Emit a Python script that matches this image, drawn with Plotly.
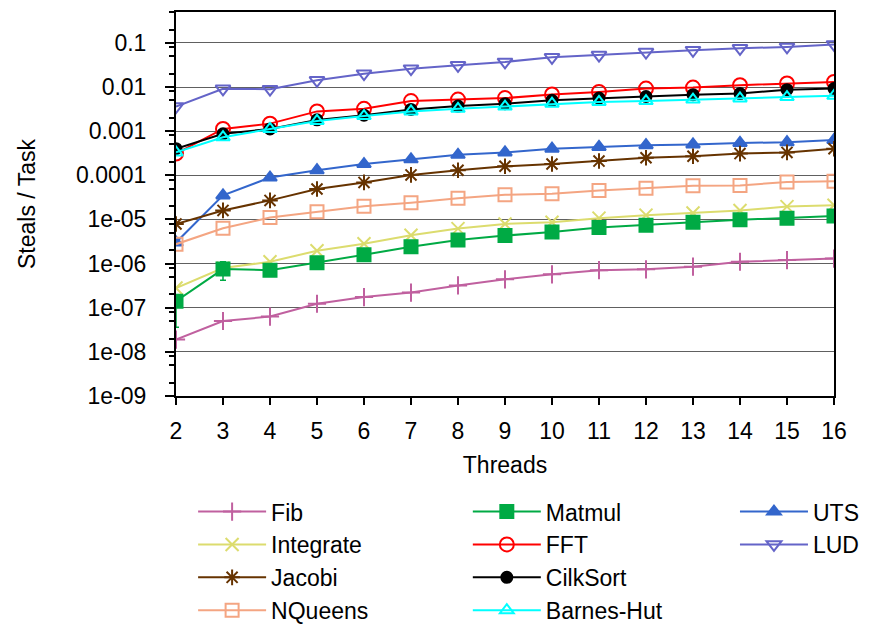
import plotly.graph_objects as go

threads = list(range(2, 17))

fib = [1.9e-8, 5.0e-8, 6.3e-8, 1.23e-7, 1.74e-7, 2.2e-7, 3.2e-7, 4.4e-7, 5.7e-7, 7.1e-7, 7.4e-7, 8.5e-7, 1.1e-6, 1.2e-6, 1.3e-6]
integrate = [2.8e-7, 7.9e-7, 1.1e-6, 1.95e-6, 2.8e-6, 4.4e-6, 6.2e-6, 7.9e-6, 8.6e-6, 1.07e-5, 1.25e-5, 1.4e-5, 1.6e-5, 1.95e-5, 2.1e-5]
jacobi = [7.9e-6, 1.6e-5, 2.7e-5, 4.9e-5, 6.9e-5, 1.02e-4, 1.3e-4, 1.6e-4, 1.8e-4, 2.1e-4, 2.5e-4, 2.7e-4, 3.1e-4, 3.3e-4, 4.0e-4]
nqueens = [2.75e-6, 6.3e-6, 1.1e-5, 1.5e-5, 2.0e-5, 2.4e-5, 3.0e-5, 3.6e-5, 3.8e-5, 4.5e-5, 5.1e-5, 5.8e-5, 5.9e-5, 7.0e-5, 7.3e-5]
matmul = [1.4e-7, 7.5e-7, 7.1e-7, 1.05e-6, 1.58e-6, 2.4e-6, 3.4e-6, 4.3e-6, 5.2e-6, 6.6e-6, 7.4e-6, 8.6e-6, 9.8e-6, 1.07e-5, 1.2e-5]
matmul_err_plus = [None, 3.5e-7] + [None] * 13
matmul_err_minus = [1.04e-7, 3.3e-7] + [None] * 13
fft = [3.1e-4, 1.12e-3, 1.48e-3, 2.8e-3, 3.2e-3, 4.8e-3, 5.2e-3, 5.6e-3, 6.8e-3, 7.7e-3, 9.2e-3, 9.7e-3, 1.1e-2, 1.2e-2, 1.3e-2]
cilksort = [4.0e-4, 8.7e-4, 1.12e-3, 1.8e-3, 2.3e-3, 3.1e-3, 3.7e-3, 4.2e-3, 5.0e-3, 5.6e-3, 6.1e-3, 6.7e-3, 7.1e-3, 8.7e-3, 9.2e-3]
barnes_hut = [3.3e-4, 7.3e-4, 1.12e-3, 1.7e-3, 2.2e-3, 2.8e-3, 3.2e-3, 3.6e-3, 4.2e-3, 4.6e-3, 4.8e-3, 5.2e-3, 5.5e-3, 5.9e-3, 6.3e-3]
uts = [3.0e-6, 3.5e-5, 8.9e-5, 1.3e-4, 1.8e-4, 2.3e-4, 2.9e-4, 3.3e-4, 4.0e-4, 4.4e-4, 4.8e-4, 5.0e-4, 5.4e-4, 5.6e-4, 6.3e-4]
lud = [3.6e-3, 9.1e-3, 8.9e-3, 1.42e-2, 2.0e-2, 2.6e-2, 3.1e-2, 3.7e-2, 4.7e-2, 5.3e-2, 6.2e-2, 6.8e-2, 7.5e-2, 8.1e-2, 9.2e-2]

y_ticks = [1e-9, 1e-8, 1e-7, 1e-6, 1e-5, 1e-4, 1e-3, 1e-2, 1e-1]
y_tick_text = ["1e-09", "1e-08", "1e-07", "1e-06", "1e-05", "0.0001", "0.001", "0.01", "0.1"]

FONT = "Liberation Sans, Arial, sans-serif"
FSIZE = 23

# (name, values, colour, symbol, size, legend column)
series = [
    ("LUD", lud, "#6464c8", "triangle-down-open", 13, "legend3"),
    ("UTS", uts, "#3366cc", "triangle-up", 12, "legend3"),
    ("Jacobi", jacobi, "#663300", "asterisk-open", 13, "legend"),
    ("NQueens", nqueens, "#f4a582", "square-open", 13, "legend"),
    ("Integrate", integrate, "#dcdc6e", "x-thin-open", 13, "legend"),
    ("Fib", fib, "#c0609f", "cross-thin-open", 13, "legend"),
    ("Matmul", matmul, "#00aa44", "square", 13, "legend2"),
    ("FFT", fft, "#ff0000", "circle-open", 14, "legend2"),
    ("CilkSort", cilksort, "#000000", "circle", 11, "legend2"),
    ("Barnes-Hut", barnes_hut, "#00ffff", "triangle-up-open", 12, "legend2"),
]
legend_rank = {"Fib": 1, "Integrate": 2, "Jacobi": 3, "NQueens": 4,
               "Matmul": 5, "FFT": 6, "CilkSort": 7, "Barnes-Hut": 8,
               "UTS": 9, "LUD": 10}

fig = go.Figure()
for name, vals, color, symbol, size, leg in series:
    kw = {}
    if name == "Matmul":
        kw["error_y"] = dict(type="data", symmetric=False, array=matmul_err_plus,
                             arrayminus=matmul_err_minus, color=color,
                             thickness=1.5, width=3)
    fig.add_trace(go.Scatter(
        x=threads, y=vals, name=name, mode="lines+markers",
        line=dict(color=color, width=2),
        marker=dict(symbol=symbol, size=size, color=color,
                    line=dict(color=color, width=2)),
        legend=leg, legendrank=legend_rank[name], legendgroup=name,
        **kw))

legend_common = dict(orientation="v", xanchor="left", yanchor="top",
                     font=dict(family=FONT, size=FSIZE, color="#000"),
                     bgcolor="rgba(0,0,0,0)", tracegroupgap=0,
                     traceorder="grouped", itemwidth=68)

fig.update_layout(
    width=869, height=626,
    margin=dict(l=176, r=35, t=12, b=230, autoexpand=False),
    paper_bgcolor="white", plot_bgcolor="white",
    font=dict(family=FONT, size=FSIZE, color="#000"),
    showlegend=True,
    legend=dict(x=0.026, y=-0.245, **legend_common),
    legend2=dict(x=0.4435, y=-0.245, **legend_common),
    legend3=dict(x=0.8495, y=-0.245, **legend_common),
    xaxis=dict(
        title=dict(text="Threads", font=dict(size=FSIZE), standoff=14),
        range=[2, 16], tickvals=threads, ticks="outside", ticklen=7,
        tickwidth=1.5, tickcolor="#000", showgrid=False, zeroline=False,
        showline=True, linecolor="#000", linewidth=2, mirror=True,
        tickfont=dict(size=FSIZE), ticklabelstandoff=6,
    ),
    yaxis=dict(
        title=dict(text="Steals / Task", font=dict(size=FSIZE), standoff=34),
        type="log", range=[-9, -0.301],
        tickvals=y_ticks, ticktext=y_tick_text, ticks="outside", ticklen=9,
        tickwidth=1.5, tickcolor="#000",
        showgrid=True, gridcolor="#606060", gridwidth=1.2,
        showline=True, linecolor="#000", linewidth=2, mirror=True,
        zeroline=False, tickfont=dict(size=FSIZE), ticklabelstandoff=14,
        minor=dict(tickvals=[m * 10.0 ** e for e in range(-9, 0) for m in (2, 5, 8)],
                   ticks="outside", ticklen=5, tickcolor="#000", showgrid=False),
    ),
)

fig.write_html("out.html")
